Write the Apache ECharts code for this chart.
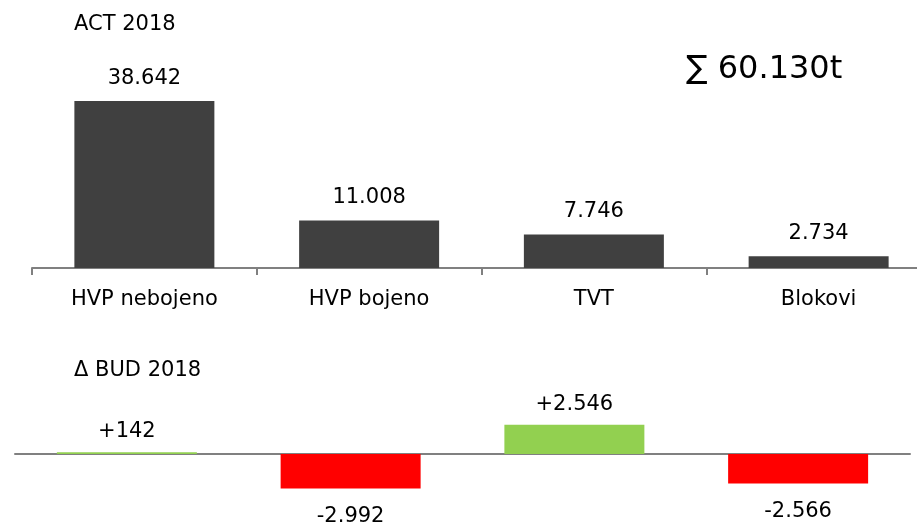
<!DOCTYPE html>
<html>
<head>
<meta charset="utf-8">
<script src="https://cdn.jsdelivr.net/npm/echarts@6/dist/echarts.min.js"></script>
<style>
  html, body { margin: 0; padding: 0; background: #fff; }
  #chart { width: 917px; height: 524px; }
</style>
</head>
<body>
<div id="chart"></div>
<script>
// data
const categories = ['HVP nebojeno', 'HVP bojeno', 'TVT', 'Blokovi'];
const actValues = [38642, 11008, 7746, 2734];
const budDelta = [142, -2992, 2546, -2566];

const FONT = 'DejaVu Sans';

// 38642 -> "38.642"
function fmt(v) {
    let s = Math.abs(v).toString();
    s = s.replace(/\B(?=(\d{3})+(?!\d))/g, '.');
    return s;
}

const total = actValues.reduce((a, b) => a + b, 0);

let chart = echarts.init(document.getElementById('chart'), null, { renderer: 'canvas' });

const option = {
    animation: false,
    backgroundColor: '#ffffff',
    textStyle: { fontFamily: FONT },
    title: [
        { text: 'ACT 2018', left: 74, top: 14, padding: 0, textStyle: { fontFamily: FONT, fontSize: 21, fontWeight: 'normal', color: '#000' } },
        { text: 'Δ BUD 2018', left: 74, top: 360, padding: 0, textStyle: { fontFamily: FONT, fontSize: 21, fontWeight: 'normal', color: '#000' } },
        { text: '∑ ' + fmt(total) + 't', left: 686, top: 54, padding: 0, textStyle: { fontFamily: FONT, fontSize: 32, fontWeight: 'normal', color: '#000' } }
    ],
    grid: [
        { left: 32, width: 899, top: 101, height: 167, outerBoundsMode: 'none' },
        { left: 15, right: 7, top: 408, height: 92, outerBoundsMode: 'none' }
    ],
    xAxis: [
        {
            gridIndex: 0,
            type: 'category',
            data: categories,
            axisLine: { lineStyle: { color: '#808080', width: 2 } },
            axisTick: { show: true, length: 7, lineStyle: { color: '#808080', width: 2 } },
            axisLabel: { color: '#000', fontFamily: FONT, fontSize: 21, margin: 21 }
        },
        {
            gridIndex: 1,
            type: 'category',
            data: categories,
            axisLine: { onZero: true, lineStyle: { color: '#808080', width: 2 } },
            axisTick: { show: false },
            axisLabel: { show: false }
        }
    ],
    yAxis: [
        { gridIndex: 0, type: 'value', min: 0, max: 38642, show: false },
        { gridIndex: 1, type: 'value', min: -4000, max: 4000, show: false }
    ],
    series: [
        {
            type: 'bar',
            xAxisIndex: 0,
            yAxisIndex: 0,
            barWidth: 140,
            data: actValues,
            itemStyle: { color: '#404040' },
            label: {
                show: true,
                position: 'top',
                distance: 12,
                color: '#000',
                fontFamily: FONT,
                fontSize: 21,
                formatter: p => fmt(p.value)
            }
        },
        {
            type: 'bar',
            xAxisIndex: 1,
            yAxisIndex: 1,
            barWidth: 140,
            data: budDelta.map(v => ({
                value: v,
                itemStyle: { color: v >= 0 ? '#92d050' : '#ff0000' },
                label: {
                    position: v >= 0 ? 'top' : 'bottom',
                    distance: v >= 0 ? 10 : 18
                }
            })),
            label: {
                show: true,
                color: '#000',
                fontFamily: FONT,
                fontSize: 21,
                formatter: p => (p.value >= 0 ? '+' : '-') + fmt(p.value)
            }
        }
    ]
};

chart.setOption(option);
</script>
</body>
</html>
